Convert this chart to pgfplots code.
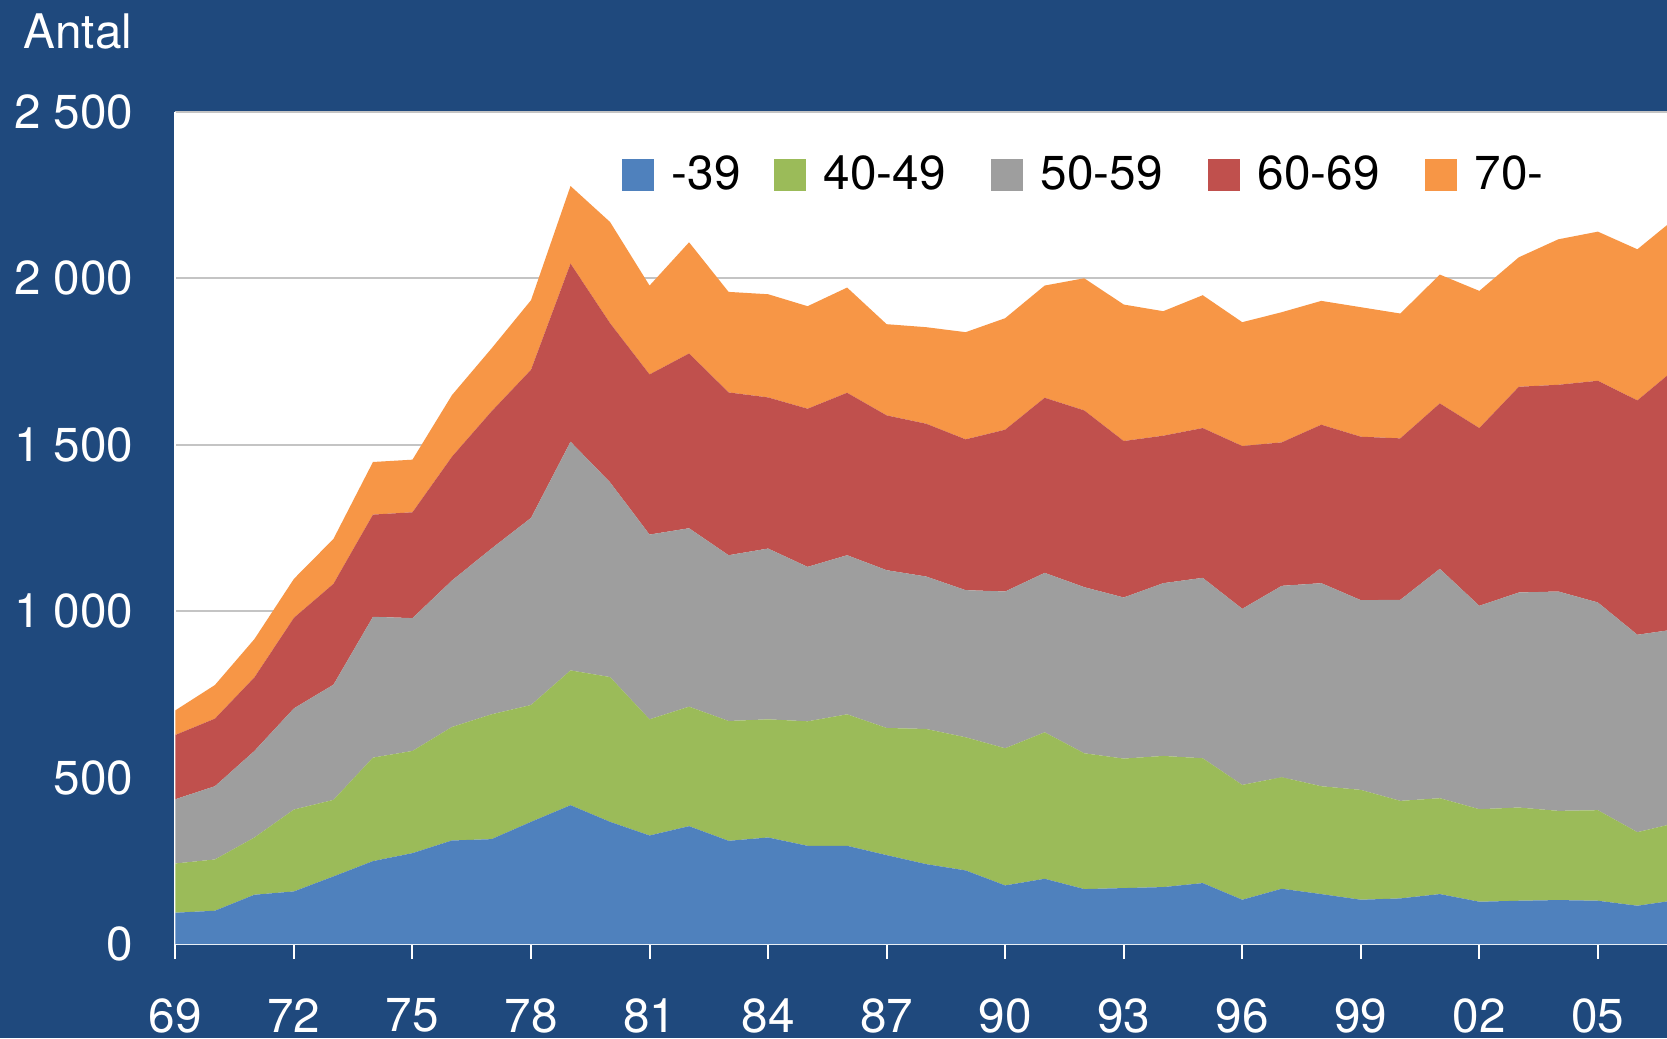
\documentclass[border=0pt]{standalone}
\usepackage{pgfplots}
\pgfplotsset{compat=1.18}
\usepackage{pgfplotstable}
\usepackage{fontspec}
\setmainfont{TeX Gyre Heros}
\definecolor{bgblue}{HTML}{1F497D}
\definecolor{sblue}{HTML}{4F81BD}
\definecolor{sgreen}{HTML}{9BBB59}
\definecolor{sgray}{HTML}{9E9E9E}
\definecolor{sred}{HTML}{C0504D}
\definecolor{sorange}{HTML}{F79646}
\definecolor{gridgray}{HTML}{C4C4C4}

\pgfplotstableread{
year a b c d e
1969 94 148 193 193 74
1970 100 154 220 203 101
1971 148 172 260 221 115
1972 158 246 304 272 117
1973 203 230 346 303 135
1974 249 311 423 307 158
1975 273 307 399 318 158
1976 311 341 440 372 185
1977 315 375 498 412 189
1978 367 351 562 445 209
1979 417 405 687 535 233
1980 367 435 585 478 304
1981 326 349 555 481 267
1982 354 359 536 525 334
1983 310 360 498 489 302
1984 320 355 513 454 310
1985 295 374 464 475 308
1986 295 395 478 488 316
1987 267 382 474 465 274
1988 240 406 458 459 290
1989 221 400 442 453 322
1990 176 412 471 486 335
1991 196 440 479 526 337
1992 165 408 499 531 397
1993 168 389 484 470 410
1994 171 394 519 443 374
1995 183 375 542 450 399
1996 133 345 529 489 372
1997 166 335 575 431 391
1998 150 324 610 476 372
1999 133 330 570 491 389
2000 137 293 604 485 375
2001 150 288 689 497 387
2002 127 278 611 534 412
2003 130 280 646 618 389
2004 132 268 659 621 437
2005 130 272 624 666 448
2006 115 221 593 704 454
2007 132 232 582 786 452
}\datatable

\begin{document}
\begin{tikzpicture}
\path[use as bounding box] (0,0) rectangle (500.1pt,311.4pt);
\fill[bgblue] (0,0) rectangle (500.1pt,311.4pt);
\clip (0,0) rectangle (500.1pt,311.4pt);
\node[anchor=base west, inner sep=0pt, text=white, font=\fontsize{14.3}{17}\selectfont] at (6.9pt,296.7pt) {Antal};
\begin{axis}[
  at={(52.62pt,28.2pt)}, anchor=south west,
  scale only axis, width=447.48pt, height=249.66pt,
  xmin=1969, xmax=2006.75, ymin=0, ymax=2500,
  stack plots=y,
  axis background/.style={fill=white},
  axis x line*=bottom, axis y line*=left,
  x axis line style={white, line width=0.6pt, -},
  y axis line style={white, line width=0.6pt, -},
  xtick={1969,1972,1975,1978,1981,1984,1987,1990,1993,1996,1999,2002,2005},
  xticklabels={69,72,75,78,81,84,87,90,93,96,99,02,05},
  ytick={0,500,1000,1500,2000,2500},
  yticklabels={0,500,1 000,1 500,2 000,2 500},
  tick align=outside,
  major tick length=4.5pt,
  xtick style={white, line width=0.6pt},
  ytick style={draw=none},
  ymajorgrids, grid style={gridgray, line width=0.6pt},
  tick label style={text=white, font=\fontsize{14.3}{17}\selectfont, inner sep=0pt},
  xticklabel style={anchor=north, yshift=-11.6pt},
  yticklabel style={anchor=east, xshift=-7.9pt},
  legend columns=5,
  legend style={at={(0.2988,0.924)}, anchor=west, draw=none, fill=none, inner sep=0pt,
    font=\fontsize{14.3}{17}\selectfont, text=black,
    nodes={inner sep=0pt},
    /tikz/every odd column/.append style={column sep=5.4pt},
    /tikz/every even column/.append style={column sep=13.5pt}},
  legend image code/.code={\fill[#1, draw=none] (0pt,-4.9pt) rectangle (9.6pt,4.9pt);},
]
\addplot[fill=sblue, draw=none] table[x=year, y=a] {\datatable} \closedcycle;
\addplot[fill=sgreen, draw=none] table[x=year, y=b] {\datatable} \closedcycle;
\addplot[fill=sgray, draw=none] table[x=year, y=c] {\datatable} \closedcycle;
\addplot[fill=sred, draw=none] table[x=year, y=d] {\datatable} \closedcycle;
\addplot[fill=sorange, draw=none] table[x=year, y=e] {\datatable} \closedcycle;
\legend{{-39\kern-3.5pt},40-49,50-59,60-69,70-}
\end{axis}
\end{tikzpicture}
\end{document}
